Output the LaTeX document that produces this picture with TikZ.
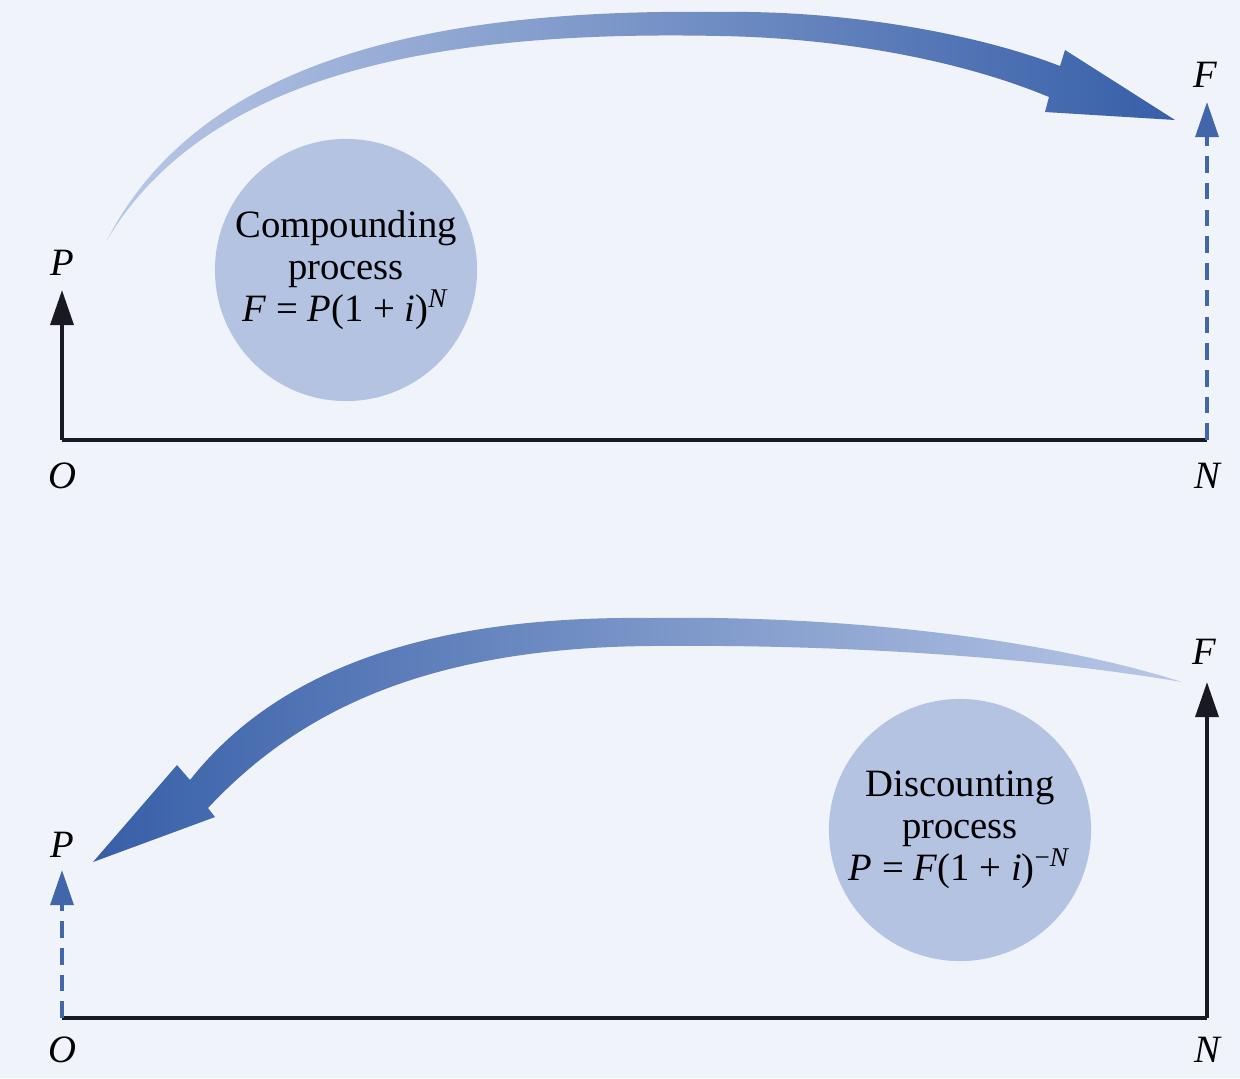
\documentclass[tikz,border=0pt]{standalone}
\usepackage{fontspec}
\setmainfont{Liberation Serif}
\usetikzlibrary{arrows.meta}
\definecolor{bg}{RGB}{240,243,250}
\definecolor{disccol}{RGB}{181,195,226}
\definecolor{arrdark}{RGB}{55,95,168}
\definecolor{arrmid}{RGB}{80,116,184}
\definecolor{arrlight}{RGB}{185,200,230}
\definecolor{dashblue}{RGB}{66,102,170}
\definecolor{axiscol}{RGB}{25,25,35}
\begin{document}
\begin{tikzpicture}[x=0.01cm,y=-0.01cm,
  lbl/.style={font=\fontsize{11}{12}\selectfont\itshape, inner sep=0pt},
  axisline/.style={draw=axiscol, line width=1pt},
  solidarr/.style={draw=axiscol, line width=1.2pt, -{Triangle[length=10pt,width=6.5pt]}},
  dasharr/.style={draw=dashblue, line width=1.15pt, dash pattern=on 4.7pt off 2.9pt, -{Triangle[length=10pt,width=6.5pt,fill=dashblue]}},
  disc/.style={circle, fill=disccol, minimum size=2.62cm, inner sep=0pt, align=center, font=\fontsize{11}{12}\selectfont}
]
\fill[bg] (0,0) rectangle (1240,1078);
\useasboundingbox (0,0) rectangle (1240,1078);

% ---------- top panel ----------
\coordinate (O1) at (62,440);
\coordinate (N1) at (1207,440);
\coordinate (P1) at (62,290);
\coordinate (F1) at (1207,102);
\node[disc] (c1) at (346,270) {Compounding\\process\\\textit{F} = \textit{P}(1 + \textit{i})\textsuperscript{\textit{N}}};
\shade[left color=arrlight, middle color=arrmid, right color=arrdark]
  (107,240) .. controls (200,60) and (430,8) .. (720,12)
  .. controls (850,10) and (980,35) .. (1060,66)
  -- (1065,50) -- (1175,120) -- (1045,112) -- (1049,97)
  .. controls (960,60) and (840,38) .. (720,36)
  .. controls (440,30) and (208,72) .. cycle;
\draw[axisline] (O1) -- (N1);
\draw[solidarr] (O1) -- (P1);
\draw[dasharr] (N1) -- (F1);
\node[lbl] (lP1) at (62,263) {P};
\node[lbl] (lO1) at (62,476) {O};
\node[lbl] (lN1) at (1207,476) {N};
\node[lbl] (lF1) at (1205,75) {F};

% ---------- bottom panel ----------
\coordinate (O2) at (62,1018);
\coordinate (N2) at (1207,1018);
\coordinate (P2) at (62,870);
\coordinate (F2) at (1207,682);
\node[disc] (c2) at (960,830) {Discounting\\process\\\textit{P} = \textit{F}(1 + \textit{i})\textsuperscript{−\textit{N}}};
\shade[left color=arrdark, middle color=arrmid, right color=arrlight]
  (1182,682) .. controls (1050,640) and (850,615) .. (650,618)
  .. controls (400,615) and (265,685) .. (190,780)
  -- (177,765) -- (93,862) -- (215,817) -- (208,808)
  .. controls (295,715) and (420,648) .. (650,646)
  .. controls (850,644) and (1040,658) .. cycle;
\draw[axisline] (O2) -- (N2);
\draw[solidarr] (N2) -- (F2);
\draw[dasharr] (O2) -- (P2);
\node[lbl] (lP2) at (62,845) {P};
\node[lbl] (lO2) at (62,1050) {O};
\node[lbl] (lN2) at (1207,1050) {N};
\node[lbl] (lF2) at (1204,652) {F};
\end{tikzpicture}
\end{document}
